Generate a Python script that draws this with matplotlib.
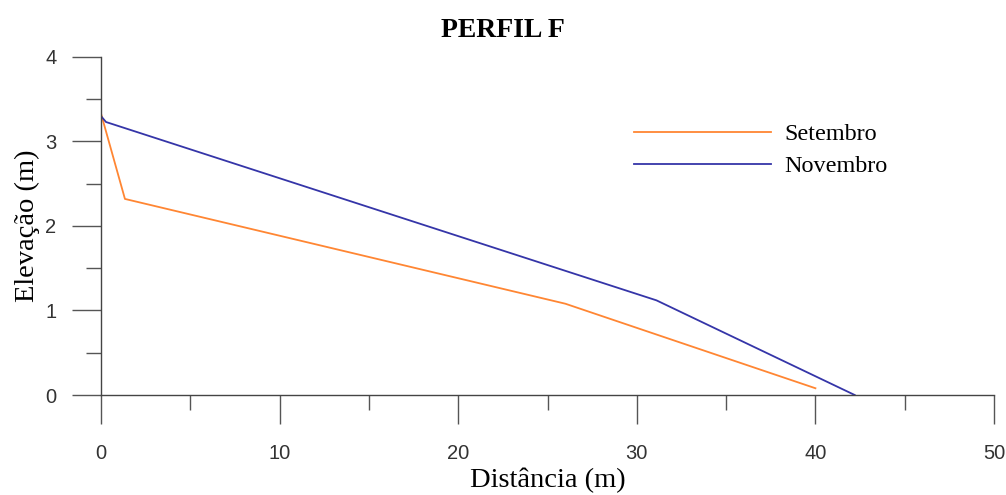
import matplotlib.pyplot as plt
from matplotlib.ticker import MultipleLocator

# Perfil F - distancia (m) x elevacao (m)
set_x = [0.0, 1.34, 26.0, 40.0]
set_y = [3.33, 2.32, 1.08, 0.08]
nov_x = [0.0, 0.28, 31.1, 42.2]
nov_y = [3.30, 3.23, 1.12, 0.0]

serif = ["Liberation Serif", "DejaVu Serif"]
sans = ["Liberation Sans", "DejaVu Sans"]


def main():
    fig = plt.figure(figsize=(10.06, 4.95), dpi=100)
    ax = fig.add_axes([0.1004, 0.202, 0.8877, 0.683])

    ax.plot(set_x, set_y, color="#ff8633", lw=1.3, label="Setembro")
    ax.plot(nov_x, nov_y, color="#3535a8", lw=1.3, label="Novembro")

    ax.set_xlim(0, 50)
    ax.set_ylim(0, 4)
    ax.xaxis.set_major_locator(MultipleLocator(10))
    ax.xaxis.set_minor_locator(MultipleLocator(5))
    ax.yaxis.set_major_locator(MultipleLocator(1))
    ax.yaxis.set_minor_locator(MultipleLocator(0.5))

    for s in ["top", "right"]:
        ax.spines[s].set_visible(False)
    for s in ["left", "bottom"]:
        ax.spines[s].set_color("#444444")
        ax.spines[s].set_linewidth(1.0)

    ax.tick_params(which="major", direction="out", length=21, width=1.0,
                   color="#555555", labelcolor="#333333", labelsize=14.5)
    ax.tick_params(which="minor", direction="out", length=10.5, width=1.0,
                   color="#555555")
    ax.tick_params(axis="x", which="major", pad=14)
    ax.tick_params(axis="y", which="major", pad=11)
    for lab in ax.get_xticklabels() + ax.get_yticklabels():
        lab.set_family(sans)

    ax.set_xlabel("Distância (m)", family=serif, fontsize=20.5, labelpad=4)
    ax.set_ylabel("Elevação (m)", family=serif, fontsize=20.5, labelpad=4)
    # title is centred on the figure, not the axes
    ax.set_title("PERFIL F", family=serif, fontsize=20, fontweight="bold",
                 pad=14, x=0.45)

    ax.legend(loc="upper left", bbox_to_anchor=(0.573, 0.868), frameon=False,
              prop={"family": serif, "size": 17.4}, handlelength=5.66,
              handletextpad=0.54, labelspacing=0.41)

    fig.savefig("out.png", dpi=100)


if __name__ == "__main__":
    main()
